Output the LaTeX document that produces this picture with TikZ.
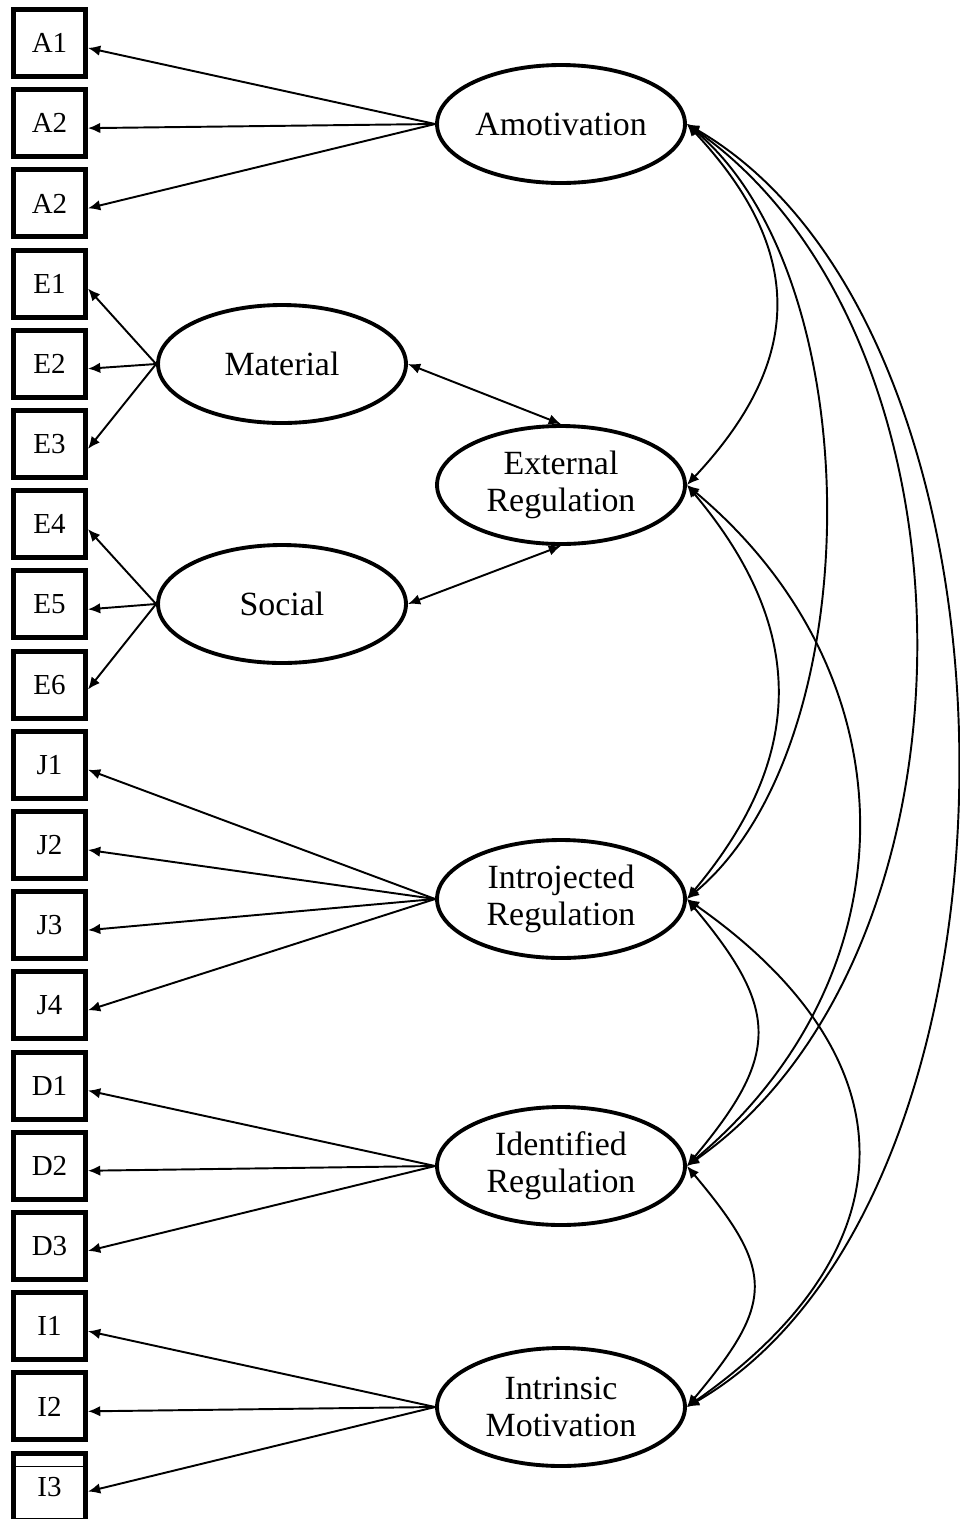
\documentclass[tikz,border=0pt]{standalone}
\usepackage{fontspec}
\setmainfont{Liberation Serif}
\usetikzlibrary{shapes.geometric,arrows.meta}
\begin{document}
\begin{tikzpicture}[x=0.02cm,y=-0.02cm,
  obs/.style={draw, line width=2.8pt, minimum width=1.44cm, minimum height=1.34cm, inner sep=0pt, font=\fontsize{16.5}{18}\selectfont},
  lat/.style={draw, ellipse, line width=2.2pt, minimum width=4.96cm, minimum height=2.36cm, inner sep=0pt, align=center, font=\fontsize{19.3}{21}\selectfont},
  load/.style={line width=1.1pt, -{Latex[length=7pt,width=6pt]}},
  covar/.style={line width=1.1pt, {Latex[length=7pt,width=6pt]}-{Latex[length=7pt,width=6pt]}}]
\useasboundingbox (0,0) rectangle (960,1519);
\clip (0,0) rectangle (960,1519);
% observed boxes
\node[obs] (A1) at (49.5,43) {A1};
\node[obs] (A2) at (49.5,123.2) {A2};
\node[obs] (A3) at (49.5,203.4) {A2};
\node[obs] (E1) at (49.5,283.6) {E1};
\node[obs] (E2) at (49.5,363.8) {E2};
\node[obs] (E3) at (49.5,444) {E3};
\node[obs] (E4) at (49.5,524.2) {E4};
\node[obs] (E5) at (49.5,604.4) {E5};
\node[obs] (E6) at (49.5,684.6) {E6};
\node[obs] (J1) at (49.5,764.8) {J1};
\node[obs] (J2) at (49.5,845) {J2};
\node[obs] (J3) at (49.5,925.2) {J3};
\node[obs] (J4) at (49.5,1005.4) {J4};
\node[obs] (D1) at (49.5,1085.6) {D1};
\node[obs] (D2) at (49.5,1165.8) {D2};
\node[obs] (D3) at (49.5,1246) {D3};
\node[obs] (I1) at (49.5,1326.2) {I1};
\node[obs] (I2) at (49.5,1406.4) {I2};
\node[obs] (I3) at (49.5,1486.6) {I3};
\draw[line width=1pt] ([yshift=-9pt]I3.north west) -- ([yshift=-9pt]I3.north east);
% latent ellipses
\node[lat] (Amot) at (561,124) {Amotivation};
\node[lat] (Mat) at (282,364) {Material};
\node[lat] (Ext) at (561,485) {External\\Regulation};
\node[lat] (Soc) at (282,604) {Social};
\node[lat] (Intro) at (561,899) {Introjected\\Regulation};
\node[lat] (Ident) at (561,1166) {Identified\\Regulation};
\node[lat] (Intr) at (561,1407) {Intrinsic\\Motivation};
% loadings
\foreach \b in {A1,A2,A3} \draw[load] (Amot.west) -- ([yshift=-2.8pt]\b.east);
\foreach \b in {E1,E2,E3} \draw[load] (Mat.west) -- ([yshift=-2.8pt]\b.east);
\foreach \b in {E4,E5,E6} \draw[load] (Soc.west) -- ([yshift=-2.8pt]\b.east);
\foreach \b in {J1,J2,J3,J4} \draw[load] (Intro.west) -- ([yshift=-2.8pt]\b.east);
\foreach \b in {D1,D2,D3} \draw[load] (Ident.west) -- ([yshift=-2.8pt]\b.east);
\foreach \b in {I1,I2,I3} \draw[load] (Intr.west) -- ([yshift=-2.8pt]\b.east);
% second order
\draw[covar] (Mat.east) -- (Ext.north);
\draw[covar] (Soc.east) -- (Ext.south);
% covariances
\draw[covar] (Amot.east) .. controls (805,250) and (805,359) .. (Ext.east);
\draw[covar] (Amot.east) .. controls (871,278) and (871,745) .. (Intro.east);
\draw[covar] (Amot.east) .. controls (991,337) and (991,953) .. (Ident.east);
\draw[covar] (Amot.east) .. controls (1047,332) and (1047,1199) .. (Intr.east);
\draw[covar] (Ext.east) .. controls (807,628) and (807,756) .. (Intro.east);
\draw[covar] (Ext.east) .. controls (915,676) and (915,975) .. (Ident.east);
\draw[covar] (Intro.east) .. controls (780,1010) and (780,1055) .. (Ident.east);
\draw[covar] (Intro.east) .. controls (914,1058) and (914,1248) .. (Intr.east);
\draw[covar] (Ident.east) .. controls (775,1271) and (775,1302) .. (Intr.east);
\end{tikzpicture}
\end{document}
